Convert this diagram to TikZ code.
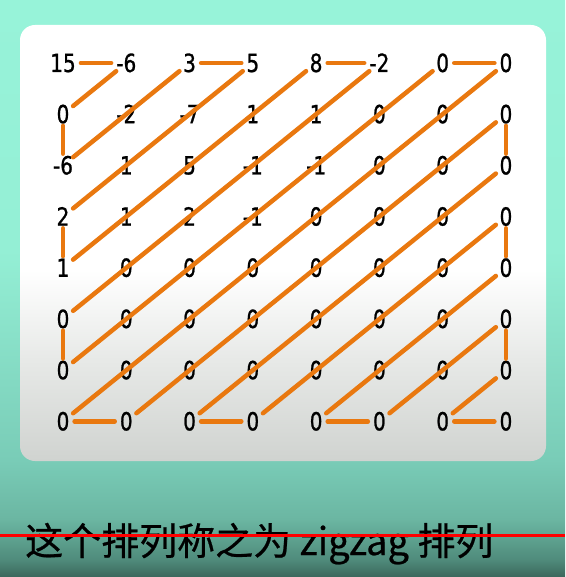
\documentclass[tikz,border=0pt]{standalone}
\usepackage{fontspec}
\newfontfamily\numfont[FakeStretch=0.8,FakeBold=0.9]{DejaVu Sans}
\newfontfamily\capfont[FakeBold=0.6]{Noto Sans CJK SC}
\definecolor{zzorange}{HTML}{E9780F}
\definecolor{bgA}{HTML}{97F3D9}
\definecolor{bgB}{HTML}{94EFD5}
\definecolor{bgC}{HTML}{79CCB7}
\definecolor{bgD}{HTML}{6BB6A2}
\definecolor{bgE}{HTML}{4F8B7B}
\definecolor{bgF}{HTML}{3B675B}
\definecolor{pnGrey}{HTML}{D0D3D0}
\definecolor{pnMid}{HTML}{E7E9E7}
\pgfdeclareverticalshading{bgshade}{100bp}{color(0bp)=(bgF); color(25bp)=(bgF); color(26.5bp)=(bgE); color(30bp)=(bgD); color(35.1bp)=(bgC); color(53.3bp)=(bgB); color(75bp)=(bgA); color(100bp)=(bgA)}
\pgfdeclareverticalshading{panelshade}{100bp}{color(0bp)=(pnGrey); color(25bp)=(pnGrey); color(36.6bp)=(pnMid); color(46.9bp)=(white); color(100bp)=(white)}
\begin{document}
\begin{tikzpicture}[x=1pt,y=-1pt,
  num/.style={font=\numfont\fontsize{25}{28}\selectfont, text height=18pt, text depth=0pt, inner xsep=5pt, inner ysep=2.5pt, text=black},
  zz/.style={draw=zzorange, line width=4.5pt, line cap=round},
  diag/.style={zz, shorten <=13pt, shorten >=13pt}]
\useasboundingbox (0,0) rectangle (565,577);
\shade[shading=bgshade] (0,0) rectangle (565,577);
\shade[shading=panelshade, rounded corners=15pt] (20,25) rectangle (546,461);
\foreach \row [count=\r from 0] in {{15,-6,3,5,8,-2,0,0},{0,-2,-7,1,1,0,0,0},{-6,1,5,-1,-1,0,0,0},{2,1,2,-1,0,0,0,0},{1,0,0,0,0,0,0,0},{0,0,0,0,0,0,0,0},{0,0,0,0,0,0,0,0},{0,0,0,0,0,0,0,0}}{
  \foreach \v [count=\c from 0] in \row {
    \node[num] (m\r\c) at ({63+63.28*\c},{63+51.2*\r}) {\v};
  }
}
\foreach \a/\b in {00/01,02/03,04/05,06/07,70/71,72/73,74/75,76/77,10/20,30/40,50/60,17/27,37/47,57/67}
  \draw[zz] (m\a) -- (m\b);
\foreach \a/\b in {01/10,20/02,03/30,40/04,05/50,60/06,07/70,71/17,27/72,73/37,47/74,75/57,67/76}
  \draw[diag] (m\a.center) -- (m\b.center);
\node[anchor=base west, inner sep=0pt, font=\capfont\fontsize{38}{42}\selectfont, text=black] (cap) at (25,555) {这个排列称之为 zigzag 排列};
\coordinate (rl) at (0,535);
\coordinate (rr) at (565,535);
\draw[red, line width=3pt] (rl) -- (rr);
\end{tikzpicture}
\end{document}
